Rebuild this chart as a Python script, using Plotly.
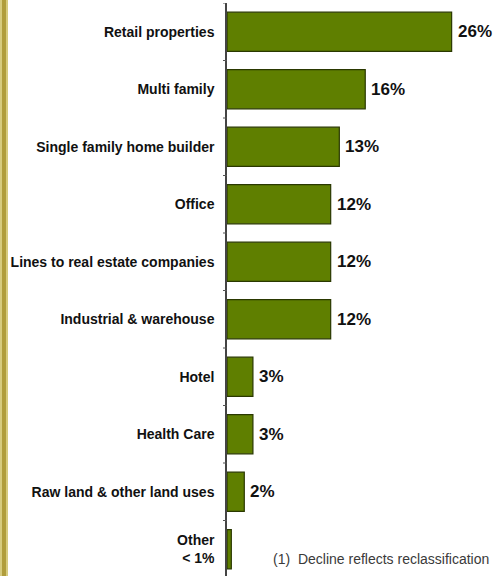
import plotly.graph_objects as go

# Loan portfolio mix by property type (share of commercial real estate book)
categories = [
    "Retail properties",
    "Multi family",
    "Single family home builder",
    "Office",
    "Lines to real estate companies",
    "Industrial & warehouse",
    "Hotel",
    "Health Care",
    "Raw land & other land uses",
    "Other<br>< 1%",
]
shares = [26, 16, 13, 12, 12, 12, 3, 3, 2, 0.5]
value_labels = ["26%", "16%", "13%", "12%", "12%", "12%", "3%", "3%", "2%", ""]
footnote = "(1)  Decline reflects reclassification"

W, H = 493, 576
LEFT = 227          # px where the category axis sits
PLOT_W = W - LEFT
PX_PER_PCT = 8.64   # horizontal scale of the bars
BAND = 57.5         # px per category row
TOP = 3

rows = list(range(len(categories)))

fig = go.Figure(
    go.Bar(
        x=shares,
        y=rows,
        orientation="h",
        marker=dict(color="#5f7f00", line=dict(color="#2a3800", width=1.2)),
        width=0.68,
        hoverinfo="skip",
    )
)

first_center = TOP + BAND / 2
plot_h = H - TOP
y_lo = (TOP - first_center) / BAND
y_hi = (H - first_center) / BAND

annotations = [
    dict(
        x=v, y=r, text=lbl, xref="x", yref="y",
        xanchor="left", yanchor="middle", xshift=4, showarrow=False,
        font=dict(family="Liberation Sans", size=17, color="#111111", weight="bold"),
    )
    for v, r, lbl in zip(shares, rows, value_labels) if lbl
]
annotations.append(
    dict(
        text=footnote,
        xref="paper",
        yref="paper",
        x=(271 - LEFT) / PLOT_W,
        y=(H - 559) / plot_h,
        xanchor="left",
        yanchor="middle",
        showarrow=False,
        font=dict(family="Liberation Sans", size=14, color="#3a3a3a"),
    )
)

fig.update_layout(
    width=W,
    height=H,
    margin=dict(l=LEFT, r=0, t=TOP, b=0),
    paper_bgcolor="white",
    plot_bgcolor="white",
    showlegend=False,
    xaxis=dict(
        range=[0, PLOT_W / PX_PER_PCT],
        visible=False,
        fixedrange=True,
    ),
    yaxis=dict(
        range=[y_hi, y_lo],
        tickmode="array",
        tickvals=rows,
        ticktext=categories,
        ticks="",
        showline=True,
        linecolor="#444444",
        linewidth=1.5,
        showgrid=False,
        zeroline=False,
        tickfont=dict(family="Liberation Sans", size=14, color="#111111", weight="bold"),
        ticklabelstandoff=8,
    ),
    annotations=annotations,
)

# Boundary tick marks between rows
for i in range(len(categories) + 1):
    yv = i - 0.5
    fig.add_shape(
        type="line", xref="paper", yref="y",
        x0=-4 / PLOT_W, x1=0, y0=yv, y1=yv,
        line=dict(color="#555555", width=1),
    )

# Gold rule down the left edge of the page
px = 1 / PLOT_W
fig.add_shape(type="rect", xref="paper", yref="paper",
              x0=-LEFT * px, x1=(-LEFT + 8) * px, y0=-0.01, y1=1.01,
              fillcolor="#d6cb7e", line=dict(width=0), layer="above")
fig.add_shape(type="rect", xref="paper", yref="paper",
              x0=(-LEFT + 2) * px, x1=(-LEFT + 6) * px, y0=-0.01, y1=1.01,
              fillcolor="#b09d3c", line=dict(width=0), layer="above")

fig.write_html("out.html")
